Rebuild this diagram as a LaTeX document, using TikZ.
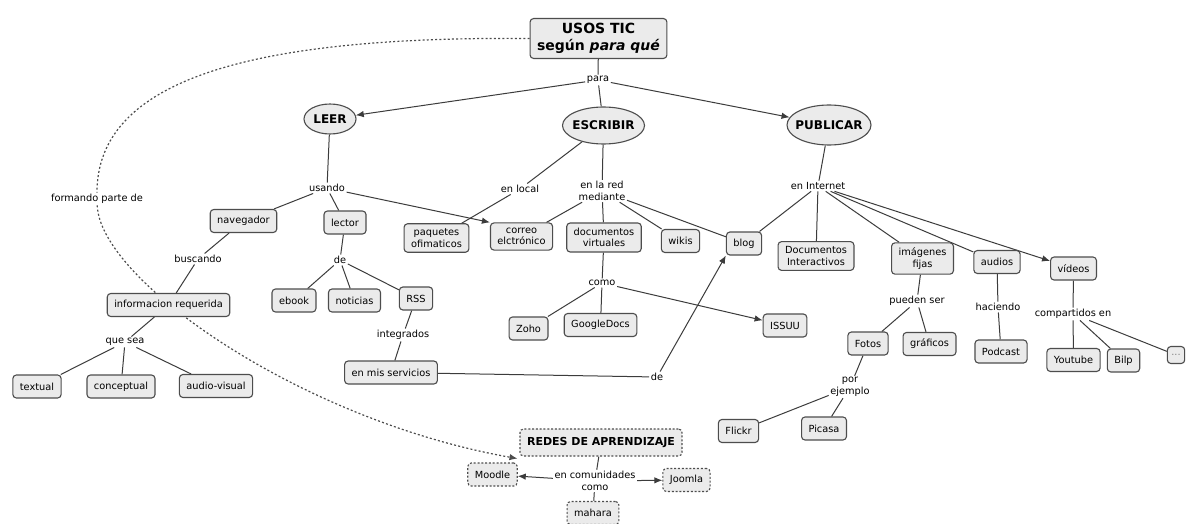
\documentclass[tikz,border=0pt]{standalone}
\usepackage{fontspec}
\setmainfont{DejaVu Sans}
\usetikzlibrary{shapes.geometric,arrows.meta,backgrounds}
\definecolor{boxfill}{HTML}{EBEBEB}
\definecolor{boxline}{HTML}{4D4D4D}
\definecolor{linkline}{HTML}{3C3C3C}

\begin{document}
\begin{tikzpicture}[x=1pt,y=-1pt,
		concept/.style={draw=boxline,fill=boxfill,rounded corners=3.5pt,line width=1.1pt,inner xsep=7pt,inner ysep=5pt,minimum height=23pt,align=center,font=\fontsize{9.8}{11.5}\selectfont},
		topic/.style={ellipse,draw=boxline,fill=boxfill,line width=1.1pt,inner sep=-15pt,font=\bfseries\fontsize{12}{14}\selectfont},
		netbox/.style={concept,dash pattern=on 2pt off 1.8pt},
		phrase/.style={inner sep=1.5pt,align=center,font=\fontsize{9.8}{11.5}\selectfont},
		link/.style={draw=linkline,line width=1pt},
		linkto/.style={link,-{Latex[length=8pt,width=6.5pt]}}]
	\useasboundingbox (0,0) rectangle (1190,524);

	% top
	\node[concept,font=\bfseries\fontsize{14}{16.5}\selectfont,inner ysep=5pt] (usos) at (598.5,38.5) {USOS TIC\\según \textit{para qué}};
	\node[phrase]	(para)	at (598,80)	{para};
	\node[topic,minimum width=52pt,minimum height=30pt]	(leer)		at (330,119)	{LEER};
	\node[topic,minimum width=82pt,minimum height=37pt]	(escribir)	at (603.5,125.5)	{ESCRIBIR};
	\node[topic,minimum width=84pt,minimum height=40pt]	(publicar)	at (829,125)	{PUBLICAR};

	% leer
	\node[phrase]	(usando)	at (327,188)	{usando};
	\node[concept]	(navegador)	at (243.5,221)	{navegador};
	\node[concept]	(lector)	at (345,222.5)	{lector};
	\node[phrase]	(buscando)	at (198,259)	{buscando};
	\node[concept]	(info)		at (168.5,305)	{informacion requerida};
	\node[phrase]	(quesea)	at (125,342)	{que sea};
	\node[concept]	(textual)	at (37,386.5)	{textual};
	\node[concept]	(conceptual)	at (121,386.5)	{conceptual};
	\node[concept]	(audiovisual)	at (216,386)	{audio-visual};
	\node[phrase]	(de1)		at (340,260)	{de};
	\node[concept]	(ebook)		at (294,300.5)	{ebook};
	\node[concept]	(noticias)	at (354.5,300.5)	{noticias};
	\node[concept]	(rss)		at (416,298.5)	{RSS};
	\node[phrase]	(integrados)	at (403,335)	{integrados};
	\node[concept]	(servicios)	at (391,372.5)	{en mis servicios};
	\node[phrase]	(de2)		at (657,377)	{de};

	% escribir
	\node[phrase]	(enlocal)	at (520,189)	{en local};
	\node[phrase]	(enred)		at (602,191)	{en la red\\mediante};
	\node[concept]	(paquetes)	at (436.5,238)	{paquetes\\ofimaticos};
	\node[concept]	(correo)	at (521.5,236.5)	{correo\\elctrónico};
	\node[concept]	(docvirt)	at (604,237.5)	{documentos\\virtuales};
	\node[concept]	(wikis)		at (680.5,241)	{wikis};
	\node[concept]	(blog)		at (744,243.5)	{blog};
	\node[phrase]	(como)		at (602,283)	{como};
	\node[concept]	(zoho)		at (528.5,328.5)	{Zoho};
	\node[concept]	(googledocs)	at (600.5,325)	{GoogleDocs};
	\node[concept]	(issuu)		at (785,325.5)	{ISSUU};

	% publicar
	\node[phrase]	(internet)	at (818,186)	{en Internet};
	\node[concept]	(docint)	at (816,256)	{Documentos\\Interactivos};
	\node[concept]	(imagenes)	at (922.5,258.5)	{imágenes\\fijas};
	\node[concept]	(audios)	at (997,262)	{audios};
	\node[concept]	(videos)	at (1073.5,268.5)	{vídeos};
	\node[phrase]	(pueden)	at (917,301)	{pueden ser};
	\node[concept]	(fotos)		at (868,343.5)	{Fotos};
	\node[concept]	(graficos)	at (929.5,344)	{gráficos};
	\node[phrase]	(haciendo)	at (998,307)	{haciendo};
	\node[concept]	(podcast)	at (1001,351.5)	{Podcast};
	\node[phrase]	(compartidos)	at (1073,314)	{compartidos en};
	\node[concept]	(youtube)	at (1073.5,360)	{Youtube};
	\node[concept]	(bilp)		at (1123.5,360.5)	{Bilp};
	\node[concept,text=gray,inner xsep=4pt,minimum height=17pt]	(more)	at (1176,355)	{...};
	\node[phrase]	(porejemplo)	at (850,387)	{por\\ejemplo};
	\node[concept]	(flickr)	at (738.5,431)	{Flickr};
	\node[concept]	(picasa)	at (824,428.5)	{Picasa};

	% redes
	\node[phrase]	(formando)	at (97,199)	{formando parte de};
	\node[netbox,font=\bfseries\fontsize{11}{13}\selectfont,minimum height=27pt] (redes) at (601,442.5) {REDES DE APRENDIZAJE};
	\node[phrase]	(comunidades)	at (595,481)	{en comunidades\\como};
	\node[netbox]	(moodle)	at (492.5,474.5)	{Moodle};
	\node[netbox]	(joomla)	at (686.5,480)	{Joomla};
	\node[netbox]	(mahara)	at (593,513)	{mahara};

	\begin{scope}[on background layer]
		\fill[white] (0,0) rectangle (1190,524);
		\draw[link] (usos) -- (para);
		\draw[linkto] (para) -- (leer);
		\draw[link] (para) -- (escribir);
		\draw[linkto] (para) -- (publicar);

		\draw[link] (leer) -- (usando);
		\draw[link] (usando) -- (navegador);
		\draw[link] (usando) -- (lector);
		\draw[linkto] (usando) -- (correo.north west);
		\draw[link] (navegador) -- (buscando) -- (info);
		\draw[link] (info) -- (quesea);
		\foreach \n in {textual,conceptual,audiovisual}
			\draw[link] (quesea) -- (\n);
		\draw[link] (lector) -- (de1);
		\foreach \n in {ebook,noticias,rss}
			\draw[link] (de1) -- (\n);
		\draw[link] (rss) -- (integrados) -- (servicios);
		\draw[link] (servicios) -- (de2);
		\draw[linkto] (de2) -- (blog.south west);

		\draw[link] (escribir) -- (enlocal);
		\draw[link] (enlocal) -- (paquetes);
		\draw[link] (escribir) -- (enred);
		\foreach \n in {correo,docvirt,wikis,blog}
			\draw[link] (enred) -- (\n);
		\draw[link] (docvirt) -- (como);
		\draw[link] (como) -- (zoho);
		\draw[link] (como) -- (googledocs);
		\draw[linkto] (como) -- (issuu);

		\draw[link] (publicar) -- (internet);
		\foreach \n in {blog,docint,imagenes,audios}
			\draw[link] (internet) -- (\n);
		\draw[linkto] (internet) -- (videos);
		\draw[link] (imagenes) -- (pueden);
		\draw[link] (pueden) -- (fotos);
		\draw[link] (pueden) -- (graficos);
		\draw[link] (fotos) -- (porejemplo);
		\draw[link] (porejemplo) -- (flickr);
		\draw[link] (porejemplo) -- (picasa);
		\draw[link] (audios) -- (haciendo) -- (podcast);
		\draw[link] (videos) -- (compartidos);
		\foreach \n in {youtube,bilp,more}
			\draw[link] (compartidos) -- (\n);

		% formando parte de
		\draw[link,draw=boxline,line width=1.2pt,dash pattern=on 2pt off 2.2pt] (usos.west) .. controls (250,36) and (97,80) .. (formando);
		\draw[linkto,draw=boxline,line width=1.2pt,dash pattern=on 2pt off 2.2pt] (formando) .. controls (100,280) and (300,420) .. ([xshift=-2pt,yshift=-2pt]redes.south west);
		\draw[link] (redes) -- (comunidades);
		\draw[linkto] (comunidades) -- (moodle);
		\draw[linkto] (comunidades) -- (joomla);
		\draw[link] (comunidades) -- (mahara);
	\end{scope}
\end{tikzpicture}
\end{document}
